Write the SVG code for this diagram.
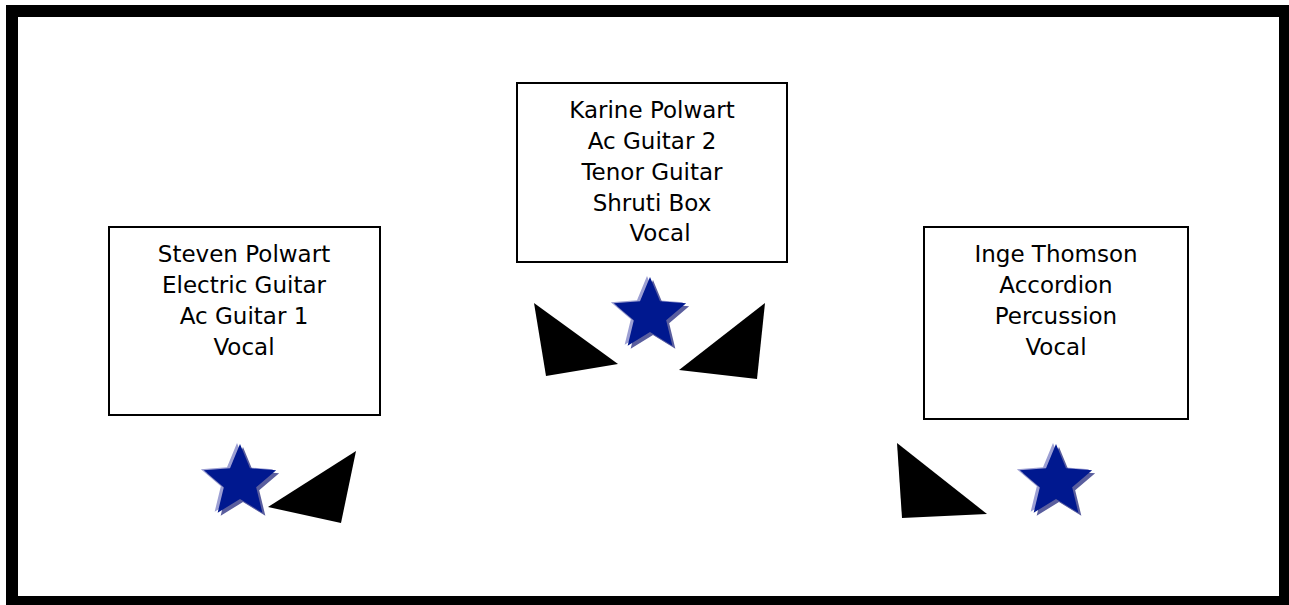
<svg xmlns="http://www.w3.org/2000/svg" xmlns:xlink="http://www.w3.org/1999/xlink" width="1289" height="605" viewBox="0 0 1289 605">
<style>
.box{fill:#fff;stroke:#000;stroke-width:2}
.lbl{font-family:"DejaVu Sans",sans-serif;font-size:23px;fill:#000;text-anchor:middle}
.tri{fill:#000}
.s-main{fill:#00188f}
.s-lt{fill:#9c9fd3}
.s-dk{fill:#5a5e9e}
</style>
<defs>
<path id="star" d="M0,-38 L9.99,-13.75 L36.14,-11.74 L16.17,5.25 L22.34,30.74 L0,17 L-22.34,30.74 L-16.17,5.25 L-36.14,-11.74 L-9.99,-13.75 Z"/>
<g id="bstar">
<use xlink:href="#star" class="s-lt" transform="translate(-3,-1)"/>
<use xlink:href="#star" class="s-dk" transform="translate(3,3)"/>
<use xlink:href="#star" class="s-main"/>
</g>
</defs>
<rect x="0" y="0" width="1289" height="605" fill="#fff"/>
<rect id="frame" x="12" y="11" width="1273" height="591" fill="none" stroke="#000" stroke-width="12"/>

<g id="steven">
<rect class="box" x="109" y="227" width="271" height="188"/>
<text class="lbl" x="244" y="262">Steven Polwart</text>
<text class="lbl" x="244" y="293">Electric Guitar</text>
<text class="lbl" x="244" y="324">Ac Guitar 1</text>
<text class="lbl" x="244" y="355">Vocal</text>
</g>

<g id="karine">
<rect class="box" x="517" y="83" width="270" height="179"/>
<text class="lbl" x="652" y="118">Karine Polwart</text>
<text class="lbl" x="652" y="149">Ac Guitar 2</text>
<text class="lbl" x="652" y="180">Tenor Guitar</text>
<text class="lbl" x="652" y="211">Shruti Box</text>
<text class="lbl" x="660" y="241">Vocal</text>
</g>

<g id="inge">
<rect class="box" x="924" y="227" width="264" height="192"/>
<text class="lbl" x="1056" y="262">Inge Thomson</text>
<text class="lbl" x="1056" y="293">Accordion</text>
<text class="lbl" x="1056" y="324">Percussion</text>
<text class="lbl" x="1056" y="355">Vocal</text>
</g>

<g id="steven-stage">
<use xlink:href="#bstar" transform="translate(240,482)"/>
<polygon class="tri" points="356,451 268,507 341,523"/>
</g>

<g id="karine-stage">
<use xlink:href="#bstar" transform="translate(650,315)"/>
<polygon class="tri" points="534,303 618,364 546,376"/>
<polygon class="tri" points="765,303 679,370 757,379"/>
</g>

<g id="inge-stage">
<polygon class="tri" points="897,443 987,514 902,518"/>
<use xlink:href="#bstar" transform="translate(1056,482)"/>
</g>

<g id="connectors"></g>
</svg>
